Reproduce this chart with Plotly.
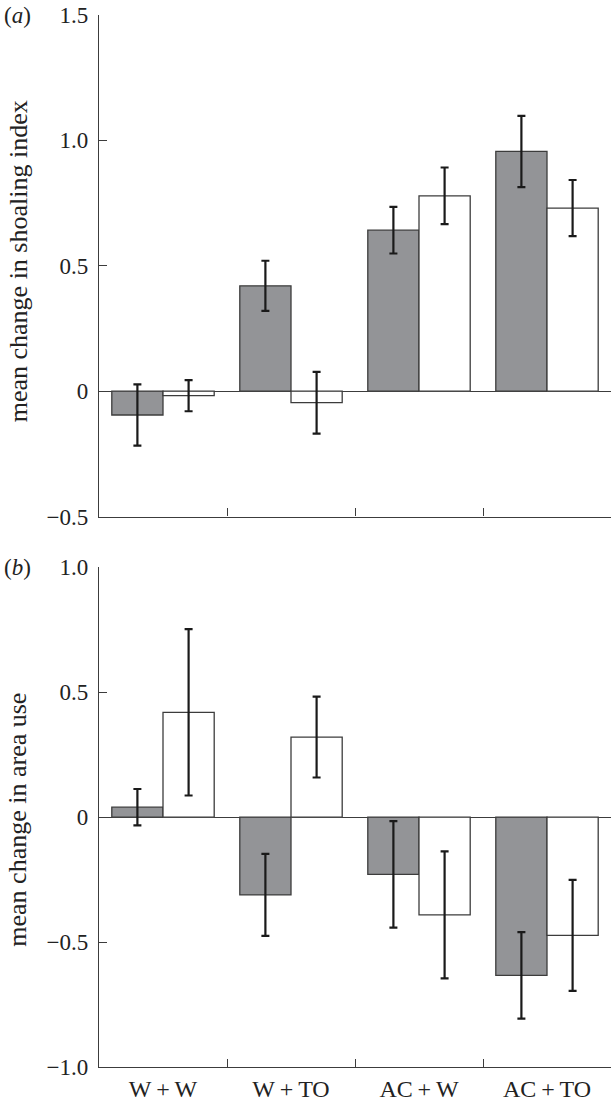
import plotly.graph_objects as go

TS = "\u2009"  # thin space used in the category names
categories = [f"W{TS}+{TS}W", f"W{TS}+{TS}TO", f"AC{TS}+{TS}W", f"AC{TS}+{TS}TO"]

# panel (a): mean change in shoaling index
shoal_grey = [-0.095, 0.42, 0.642, 0.956]
shoal_grey_err = [0.122, 0.10, 0.093, 0.142]
shoal_white = [-0.018, -0.046, 0.779, 0.730]
shoal_white_err = [0.062, 0.123, 0.113, 0.112]

# panel (b): mean change in area use
area_grey = [0.04, -0.311, -0.229, -0.633]
area_grey_err = [0.073, 0.164, 0.213, 0.173]
area_white = [0.42, 0.321, -0.391, -0.473]
area_white_err = [0.333, 0.162, 0.254, 0.222]

ytick_a_vals = [-0.5, 0, 0.5, 1.0, 1.5]
ytick_a_text = ["\u22120.5", "0", "0.5", "1.0", "1.5"]
ytick_b_vals = [-1.0, -0.5, 0, 0.5, 1.0]
ytick_b_text = ["\u22121.0", "\u22120.5", "0", "0.5", "1.0"]

GREY = "#939497"
EDGE = "#3c3c3c"
FONT = "Liberation Serif"
TXT = "#222"

fig = go.Figure()


def add_pair(grey, grey_err, white, white_err, xa, ya):
    for vals, errs, col in ((grey, grey_err, GREY), (white, white_err, "white")):
        fig.add_trace(go.Bar(
            x=categories, y=vals, xaxis=xa, yaxis=ya,
            marker=dict(color=col, line=dict(color=EDGE, width=1.3)),
            error_y=dict(type="data", array=errs, visible=True,
                         color="#1a1a1a", thickness=2.2, width=4),
            showlegend=False, hoverinfo="skip",
        ))


add_pair(shoal_grey, shoal_grey_err, shoal_white, shoal_white_err, "x", "y")
add_pair(area_grey, area_grey_err, area_white, area_white_err, "x2", "y2")

W, H = 611, 1102
mt, mb, ml, mr = 15, 32, 99, 0
ph = H - mt - mb
pw = W - ml - mr


def frac(top_px, bot_px):
    return [1 - (bot_px - mt) / ph, 1 - (top_px - mt) / ph]


def ypaper(px):
    return 1 - (px - mt) / ph


dom_a = frac(15, 518)
dom_b = frac(569, 1070)

axis_common = dict(
    showline=True, linecolor=EDGE, linewidth=1.3, showgrid=False,
    ticks="inside", ticklen=8, tickwidth=1.3, tickcolor=EDGE,
    tickfont=dict(family=FONT, size=23, color=TXT),
)

fig.update_layout(
    width=W, height=H,
    margin=dict(l=ml, r=mr, t=mt, b=mb),
    paper_bgcolor="white", plot_bgcolor="white",
    barmode="group", bargap=0.2, bargroupgap=0,
    font=dict(family=FONT, color=TXT),
    xaxis=dict(**axis_common, type="category", tickson="boundaries",
               showticklabels=False, anchor="y", domain=[0, 1],
               zeroline=False),
    xaxis2=dict(**axis_common, type="category", tickson="boundaries",
                anchor="y2", domain=[0, 1], zeroline=False,
                ticklabelstandoff=0),
    yaxis=dict(**axis_common, domain=dom_a, range=[-0.5, 1.5], anchor="x",
               tickmode="array", tickvals=ytick_a_vals, ticktext=ytick_a_text,
               zeroline=True, zerolinecolor=EDGE, zerolinewidth=1.2,
               ticklabelstandoff=5),
    yaxis2=dict(**axis_common, domain=dom_b, range=[-1.0, 1.0], anchor="x2",
                tickmode="array", tickvals=ytick_b_vals, ticktext=ytick_b_text,
                zeroline=True, zerolinecolor=EDGE, zerolinewidth=1.2,
                ticklabelstandoff=5),
)
fig.update_xaxes(tickfont=dict(size=24))

titles = [
    ("mean change in shoaling index", 262),
    ("mean change in area use", 822),
]
for text, ypx in titles:
    fig.add_annotation(xref="paper", yref="paper", x=(18 - ml) / pw, y=ypaper(ypx),
                       text=text, textangle=-90, showarrow=False,
                       xanchor="center", yanchor="middle",
                       font=dict(family=FONT, size=26, color=TXT))

for lab, ypx in (("(<i>a</i>)", 15), ("(<i>b</i>)", 569)):
    fig.add_annotation(xref="paper", yref="paper", x=(2 - ml) / pw, y=ypaper(ypx),
                       text=lab, showarrow=False, xanchor="left", yanchor="middle",
                       font=dict(family=FONT, size=23, color=TXT))

fig.write_html("out.html", config={"displayModeBar": False},
               post_script="document.body.style.margin='0';")
